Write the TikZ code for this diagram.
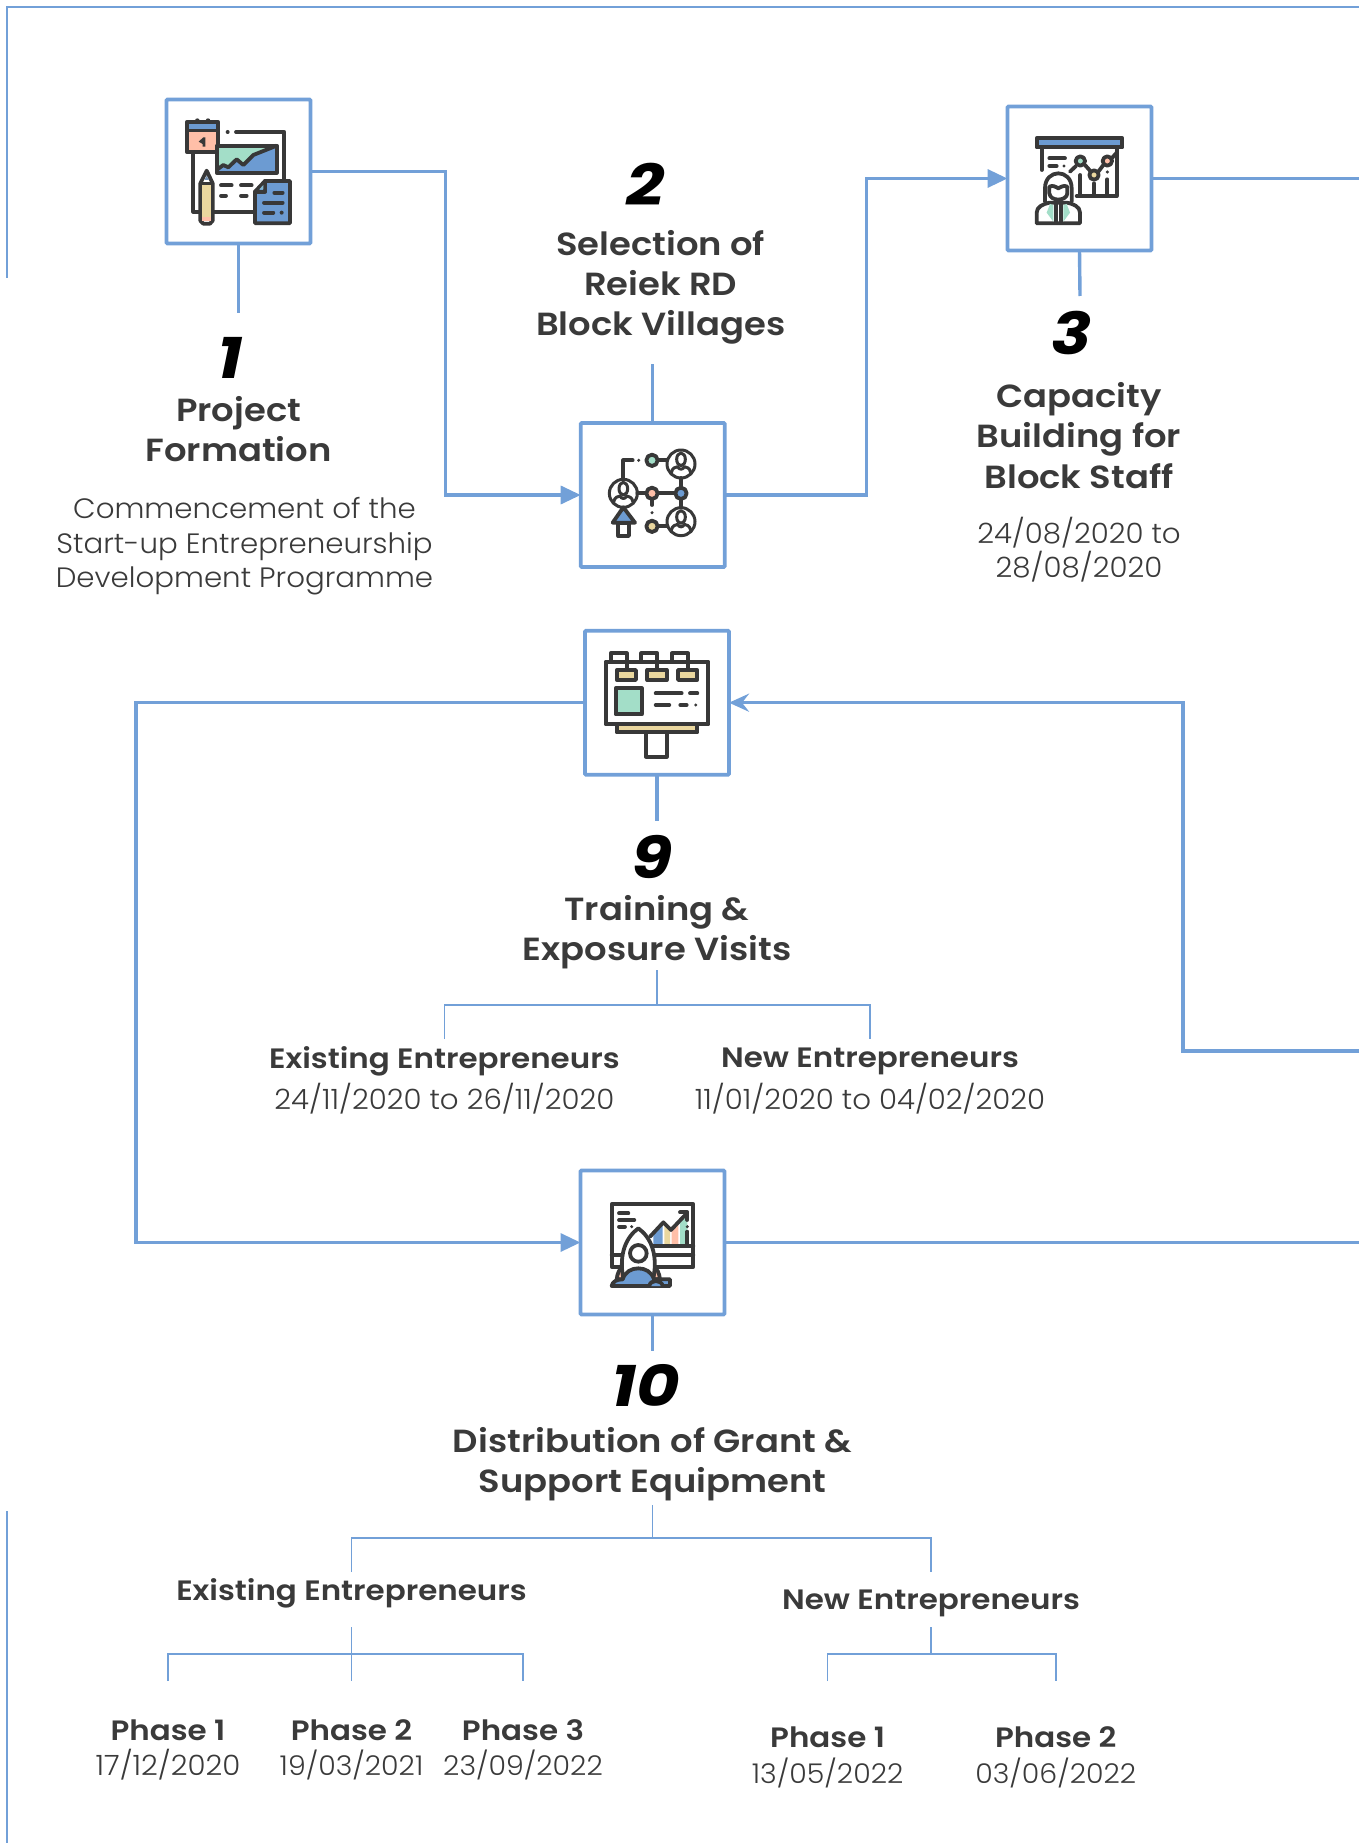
\documentclass[tikz,border=0pt]{standalone}
\usepackage{fontspec}
\setmainfont{Poppins}[UprightFont={* Light},FakeStretch=1.045]
\newfontfamily\headfont{Poppins}[UprightFont={* SemiBold},FakeStretch=1.105]
\newfontfamily\numfont{Poppins}[UprightFont={* Bold Italic},FakeStretch=1.15]
\usetikzlibrary{arrows.meta}
\definecolor{frameblue}{HTML}{72A0D8}
\definecolor{icblue}{HTML}{6C9BD2}
\definecolor{icgreen}{HTML}{A3DEC8}
\definecolor{icpeach}{HTML}{FFBFA8}
\definecolor{icyellow}{HTML}{EAD79E}
\definecolor{icdark}{HTML}{383838}
\definecolor{txt}{HTML}{3A3A3A}
\tikzset{
  box/.style={draw=frameblue,fill=white,line width=3.8pt,minimum size=144pt,inner sep=0pt,outer sep=0pt,rounded corners=1pt},
  conn/.style={draw=frameblue,line width=3.4pt},
  arr/.style={conn,-{Triangle[length=20pt,width=18pt]}},
  barb/.style={conn,-{Stealth[length=20pt,width=18pt,inset=7pt]}},
  thin/.style={draw=frameblue,line width=1.7pt},
  numb/.style={font=\fontsize{58}{60}\numfont,text=black,inner sep=0pt},
  ttl/.style={font=\fontsize{32}{40.3}\headfont,text=txt,align=center,inner sep=0pt},
  sub/.style={font=\fontsize{28}{34}\headfont,text=txt,align=center,inner sep=0pt},
  bod/.style={font=\fontsize{28}{34.5}\selectfont,text=txt,align=center,inner sep=0pt},
  dat/.style={font=\fontsize{27.2}{34.5}\selectfont,text=txt,align=center,inner sep=0pt},
  ic/.style={draw=icdark,line width=3.8pt,line cap=round,line join=round},
  zoomed/.style={x=0.33333pt,y=-0.33333pt},
}
\newcommand{\persona}[2]{%
  \draw[ic,line width=3pt] (#1,#2) circle (42);
  \draw[ic,line width=3pt] (#1,#2-14) ellipse (13 and 19);
  \draw[ic,line width=3pt] (#1-29,#2+26) .. controls (#1-26,#2+10) and (#1-16,#2+10) .. (#1-10,#2+8)
     .. controls (#1-6,#2+18) and (#1+6,#2+18) .. (#1+10,#2+8)
     .. controls (#1+16,#2+10) and (#1+26,#2+10) .. (#1+29,#2+26);
}
\begin{document}
\begin{tikzpicture}[x=1pt,y=-1pt]
\useasboundingbox (0,0) rectangle (1359,1843);
% outer frame
\coordinate (fa) at (7,278);
\coordinate (fb) at (7,7);
\coordinate (fc) at (1359,7);
\coordinate (fd) at (7,1511);
\coordinate (fe) at (7,1843);
\draw[thin] (fa) -- (fb) -- (fc);
\draw[thin] (fd) -- (fe);
% boxes
\node[box] (b1) at (238.5,171.5) {};
\node[box] (b2) at (652.7,495) {};
\node[box] (b3) at (1079.5,178.5) {};
\node[box] (b9) at (657,702.7) {};
\node[box] (b10) at (652.5,1242.5) {};
% labels
\node[numb] (n1) at (229.6,358) {1};
\node[numb] (n2) at (645.5,184.6) {2};
\node[numb] (n3) at (1072,333) {3};
\node[numb] (n9) at (652,857) {9};
\node[numb] (n10) at (646,1385) {10};
\node[ttl] (t1) at (238.6,429) {Project\\Formation};
\node[bod] (d1) at (244.5,546.5) {Commencement of the\\Start-up Entrepreneurship\\Development Programme};
\node[ttl] (t2) at (660.7,287.4) {Selection of\\Reiek RD\\Block Villages};
\node[ttl] (t3) at (1079,435.5) {Capacity\\Building for\\Block Staff};
\node[bod] (d3) at (1079,549.5) {24/08/2020 to\\28/08/2020};
\node[ttl] (t9) at (657,932.4) {Training \&\\Exposure Visits};
\node[sub] (e9) at (444.4,1061.4) {Existing Entrepreneurs};
\node[sub] (w9) at (870,1061.4) {New Entrepreneurs};
\node[bod] (ed9) at (444.4,1099) {24/11/2020 to 26/11/2020};
\node[bod] (wd9) at (870,1099) {11/01/2020 to 04/02/2020};
\node[ttl] (t10) at (652.5,1464.5) {Distribution of Grant \&\\Support Equipment};
\node[sub] (e10) at (351.5,1593.4) {Existing Entrepreneurs};
\node[sub] (w10) at (931,1603.5) {New Entrepreneurs};
\node[sub] (p1) at (168,1730.5) {Phase 1};
\node[bod] (pd1) at (168,1764.6) {17/12/2020};
\node[sub] (p2) at (351.5,1730.5) {Phase 2};
\node[dat] (pd2) at (351.5,1764.6) {19/03/2021};
\node[sub] (p3) at (523,1730.5) {Phase 3};
\node[dat] (pd3) at (523,1764.6) {23/09/2022};
\node[sub] (q1) at (827.6,1737.5) {Phase 1};
\node[dat] (qd1) at (827.6,1773) {13/05/2022};
\node[sub] (q2) at (1055.7,1737.5) {Phase 2};
\node[dat] (qd2) at (1055.7,1773) {03/06/2022};
% connector waypoints
\coordinate (c12) at (445.6,495);
\coordinate (c23) at (866.4,178.5);
\coordinate (x1) at (238.5,313);
\coordinate (x2) at (652.7,364);
\coordinate (x3) at (1080,296);
\coordinate (r3) at (1359,178.5);
\coordinate (x9) at (657,820.6);
\coordinate (c910) at (135.8,1242.5);
\coordinate (rin) at (1359,1051);
\coordinate (rc) at (1183,1051);
\coordinate (r10) at (1359,1242.5);
\coordinate (x10) at (652.5,1351);
% main connectors
\draw[arr] (b1.east) -| (c12) -- (b2.west);
\draw[arr] (b2.east) -| (c23) -- (b3.west);
\draw[conn] (b1.south) -- (x1);
\draw[conn] (b2.north) -- (x2);
\draw[conn] (b3.south) -- (x3);
\draw[conn] (b3.east) -- (r3);
\draw[conn] (b9.south) -- (x9);
\draw[arr] (b9.west) -| (c910) -- (b10.west);
\draw[barb] (rin) -- (rc) |- (b9.east);
\draw[conn] (b10.east) -- (r10);
\draw[conn] (b10.south) -- (x10);
% tree 9
\coordinate (u9) at (657,970);
\coordinate (h9) at (657,1005);
\coordinate (h9l) at (444.4,1005);
\coordinate (h9r) at (870,1005);
\coordinate (l9) at (444.4,1039);
\coordinate (r9) at (870,1039);
\draw[thin] (u9) -- (h9);
\draw[thin] (l9) -- (h9l) -- (h9r) -- (r9);
% tree 10
\coordinate (u10) at (652.5,1505);
\coordinate (h10) at (652.5,1537.7);
\coordinate (h10l) at (351.5,1537.7);
\coordinate (h10r) at (931,1537.7);
\coordinate (l10) at (351.5,1572);
\coordinate (r10b) at (931,1572);
\draw[thin] (u10) -- (h10);
\draw[thin] (l10) -- (h10l) -- (h10r) -- (r10b);
% existing tree
\coordinate (ue) at (351.5,1627);
\coordinate (he) at (351.5,1654);
\coordinate (he1) at (168,1654);
\coordinate (he3) at (523,1654);
\coordinate (de1) at (168,1681);
\coordinate (de2) at (351.5,1681);
\coordinate (de3) at (523,1681);
\draw[thin] (ue) -- (de2);
\draw[thin] (de1) -- (he1) -- (he3) -- (de3);
% new tree
\coordinate (un) at (931,1627);
\coordinate (hn) at (931,1654);
\coordinate (hn1) at (827.6,1654);
\coordinate (hn2) at (1055.7,1654);
\coordinate (dn1) at (827.6,1681);
\coordinate (dn2) at (1055.7,1681);
\draw[thin] (un) -- (hn);
\draw[thin] (dn1) -- (hn1) -- (hn2) -- (dn2);
% icon 1
\begin{scope}[shift={(140,80)},zoomed]
\draw[ic] (160,215) -- (160,395) -- (345,395);
\draw[ic] (288,156) -- (433,156) -- (433,300);
\fill[icdark] (263,156) circle (6);
\draw[ic,fill=icblue] (140,127) rectangle (235,162);
\draw[ic,fill=icpeach] (140,150) rectangle (235,215);
\draw[ic,fill=icblue,draw=none] (146,133) rectangle (229,146);
\fill[icdark] (172,122) circle (7) (204,122) circle (7);
\fill[icdark] (176,185) -- (190,172) -- (196,172) -- (196,200) -- (188,200) -- (188,192) -- cycle;
\fill[icgreen] (232,200) -- (392,200) -- (340,225) -- (310,255) -- (290,238) -- (265,262) -- (250,255) -- (232,262) -- cycle;
\fill[icblue] (410,197) -- (410,278) -- (232,278) -- (250,255) -- (265,262) -- (290,238) -- (310,255) -- (340,225) -- cycle;
\draw[ic] (230,197) rectangle (410,278);
\draw[ic] (230,270) -- (250,255) -- (265,262) -- (290,238) -- (310,255) -- (340,225) -- (410,197);
\draw[ic,fill=white] (181,310) -- (200,272) -- (218,310) -- (218,422) -- (210,431) -- (190,431) -- (181,422) -- cycle;
\fill[icyellow] (187,314) rectangle (212,410);
\fill[icpeach] (187,412) rectangle (212,423);
\draw[icdark,line width=3pt] (181,310) -- (218,310);
\fill[icblue!60!gray] (193,300) -- (200,288) -- (207,300) -- cycle;
\draw[ic] (243,316) -- (275,316) (303,316) -- (335,316) (243,347) -- (258,347) (303,347) -- (320,347);
\draw[ic,fill=icblue] (345,335) -- (375,303) -- (450,303) -- (450,430) -- (345,430) -- cycle;
\draw[ic] (345,335) -- (375,335) -- (375,303);
\fill[icgreen!40!icblue] (358,328) -- (370,328) -- (370,315) -- cycle;
\draw[ic] (403,338) -- (428,338) (372,368) -- (428,368) (372,398) -- (400,398);
\fill[icdark] (425,398) circle (6);
\end{scope}
% icon 2
\begin{scope}[shift={(560,400)},zoomed]
\draw[ic] (190,238) -- (190,181) -- (218,181);
\fill[icdark] (236,181) circle (5);
\draw[ic] (295,181) -- (322,181) (232,280) -- (258,280) (295,280) -- (345,280) (363,234) -- (363,262) (363,298) -- (363,322) (276,298) -- (276,315) (295,379) -- (322,379);
\fill[icdark] (276,338) circle (5);
\draw[ic,fill=icgreen] (276,181) circle (17);
\draw[ic,fill=icpeach] (276,280) circle (17);
\draw[ic,fill=icblue] (363,280) circle (17);
\draw[ic,fill=icyellow] (276,379) circle (17);
\persona{363}{192}
\persona{363}{365}
\persona{190}{280}
\draw[ic,fill=white] (175,368) rectangle (207,408);
\draw[ic,fill=icblue] (190,322) -- (158,368) -- (225,368) -- cycle;
\end{scope}
% icon 3
\begin{scope}[shift={(990,90)},zoomed]
\draw[ic] (155,172) -- (155,240);
\draw[ic] (380,172) -- (380,318) -- (260,318);
\draw[ic,fill=icblue] (140,145) rectangle (397,172);
\draw[ic] (178,205) -- (225,205) (178,228) -- (200,228);
\fill[icdark] (222,228) circle (5);
\draw[ic] (240,245) -- (258,228) (285,225) -- (300,242) (325,245) -- (340,225) (365,205) -- (380,188);
\draw[ic,fill=icgreen] (271,213) circle (14);
\draw[ic,fill=icyellow] (312,255) circle (14);
\draw[ic,fill=icpeach] (352,213) circle (14);
\draw[ic] (271,255) -- (271,318) (312,280) -- (312,318) (352,268) -- (352,318);
\fill[icdark] (352,246) circle (5);
\draw[ic,fill=white] (165,335) -- (165,295) .. controls (165,235) and (245,235) .. (245,295) -- (245,335);
\draw[ic,fill=white] (140,400) -- (140,368) .. controls (140,350) and (160,342) .. (178,338) -- (232,338) .. controls (250,342) and (270,350) .. (270,368) -- (270,400) -- cycle;
\fill[icgreen] (180,342) -- (190,345) -- (190,395) -- (170,368) -- cycle;
\fill[icgreen] (230,342) -- (220,345) -- (220,395) -- (240,368) -- cycle;
\draw[ic,fill=white] (178,290) -- (178,310) .. controls (180,335) and (230,335) .. (232,310) -- (232,290) .. controls (220,285) and (215,290) .. (205,295) .. controls (195,290) and (190,285) .. (178,290) -- cycle;
\draw[ic] (197,335) -- (197,398) (213,335) -- (213,398);
\end{scope}
% icon 9
\begin{scope}[shift={(570,620)},zoomed]
\draw[ic] (122,125) -- (122,100) -- (170,100) -- (170,125) (214,125) -- (214,100) -- (262,100) -- (262,125) (306,125) -- (306,100) -- (354,100) -- (354,125);
\draw[ic,fill=white] (107,125) rectangle (415,313);
\draw[ic] (170,125) -- (170,150) (262,125) -- (262,150) (354,125) -- (354,150);
\draw[ic,fill=icyellow] (140,150) rectangle (198,180);
\draw[ic,fill=icyellow] (232,150) rectangle (290,180);
\draw[ic,fill=icyellow] (324,150) rectangle (382,180);
\draw[ic,fill=icgreen] (137,205) rectangle (215,283);
\draw[ic] (257,220) -- (335,220) (360,220) -- (382,220) (257,255) -- (298,255) (331,255) -- (350,255);
\fill[icdark] (377,255) circle (5);
\draw[ic,fill=icyellow] (140,313) rectangle (382,337);
\draw[ic,fill=white] (228,337) rectangle (290,410);
\end{scope}
% icon 10
\begin{scope}[shift={(570,1160)},zoomed]
\draw[ic,fill=white] (125,133) rectangle (370,320);
\fill[icblue] (250,222) -- (278,192) -- (278,258) -- (250,258) -- cycle;
\fill[icyellow] (283,192) -- (300,210) -- (300,258) -- (283,258) -- cycle;
\fill[icpeach] (305,208) -- (325,188) -- (325,258) -- (305,258) -- cycle;
\fill[icgreen] (330,182) -- (352,160) -- (352,258) -- (330,258) -- cycle;
\draw[ic] (125,285) -- (370,285) (240,258) -- (370,258);
\draw[ic] (240,230) -- (280,187) -- (303,210) -- (352,158);
\draw[ic] (330,157) -- (352,157) -- (352,180);
\fill[icdark] (352,200) circle (5);
\draw[ic] (352,215) -- (352,255) (147,160) -- (175,160) (147,180) -- (193,180) (147,200) -- (165,200);
\fill[icdark] (185,200) circle (5);
\draw[ic,fill=icpeach] (162,318) .. controls (148,325) and (142,340) .. (140,358) -- (270,358) .. controls (268,340) and (262,325) .. (248,318) -- cycle;
\draw[ic,fill=white] (160,355) .. controls (145,280) and (170,230) .. (205,205) .. controls (240,230) and (265,280) .. (250,355) -- cycle;
\draw[ic] (205,280) circle (25);
\draw[ic,fill=icblue] (125,378) .. controls (127,365) and (140,358) .. (158,358) .. controls (165,335) and (185,325) .. (205,325) .. controls (225,325) and (245,335) .. (252,358) -- (300,358) -- (300,378) -- cycle;
\draw[ic,fill=icblue] (238,378) .. controls (240,358) and (275,358) .. (278,378);
\end{scope}
\end{tikzpicture}
\end{document}
